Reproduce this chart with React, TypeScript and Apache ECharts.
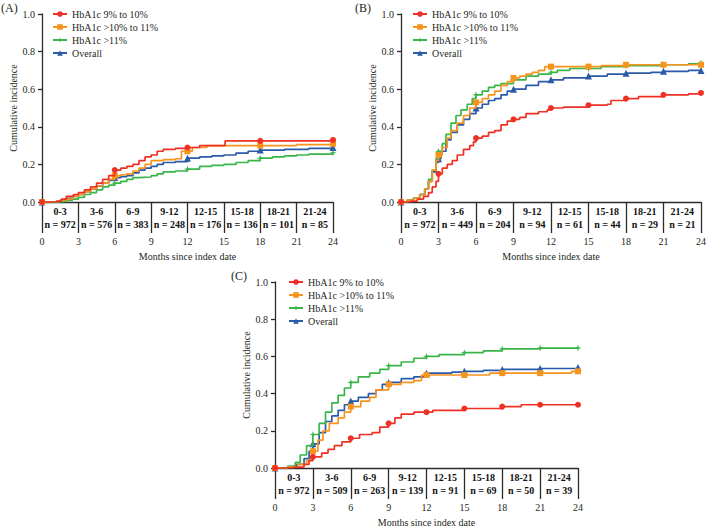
import React, { useEffect, useRef } from "react";
import * as echarts from "echarts";

const FONT = '"Liberation Serif", "Times New Roman", serif';
const TXT = "#231f20";
const AXIS = "#2b2b2b";

const SERIES_NAMES = ["HbA1c 9% to 10%", "HbA1c >10% to 11%", "HbA1c >11%", "Overall"];
const COLORS = ["#ee3124", "#f7941d", "#3ab54a", "#2b5aa8"];
const SYMBOLS = [
  "circle",
  "rect",
  "path://M5 0 L6.2 3.8 L10 5 L6.2 6.2 L5 10 L3.8 6.2 L0 5 L3.8 3.8 Z",
  "triangle",
];
const SYMBOL_SIZES = [6, 6, 7, 7];

const INTERVALS = ["0-3", "3-6", "6-9", "9-12", "12-15", "15-18", "18-21", "21-24"];

// Panel A
const A_COUNTS = [972, 576, 383, 248, 176, 136, 101, 85];
const A_MARKERS = [0, 6, 12, 18, 24];
const A_RED = [[0,0],[1.2,0.005],[1.6,0.015],[2,0.03],[2.6,0.04],[3,0.05],[3.5,0.065],[4,0.08],[4.5,0.1],[5,0.12],[5.5,0.14],[6,0.17],[6.5,0.18],[7,0.19],[7.5,0.2],[8,0.22],[8.5,0.24],[9,0.25],[9.5,0.27],[10,0.28],[11,0.285],[12,0.29],[13,0.3],[15,0.3],[15.1,0.325],[18,0.325],[21,0.325],[24,0.33]];
const A_ORANGE = [[0,0],[1,0.003],[1.5,0.008],[2,0.015],[2.5,0.03],[3,0.04],[3.5,0.055],[4,0.07],[4.5,0.085],[5,0.1],[5.5,0.12],[6,0.14],[6.5,0.145],[7,0.15],[7.5,0.165],[8,0.18],[8.5,0.2],[9,0.22],[10,0.225],[11,0.23],[11.5,0.27],[12,0.27],[12.4,0.29],[13.6,0.3],[18,0.3],[21,0.305],[24,0.31]];
const A_GREEN = [[0,0],[1.5,0.003],[2,0.008],[2.5,0.015],[3,0.025],[3.5,0.04],[4,0.05],[4.5,0.065],[5,0.08],[5.5,0.09],[6,0.1],[6.5,0.11],[7,0.12],[7.5,0.13],[8,0.133],[9,0.14],[9.5,0.15],[10,0.16],[11,0.165],[12,0.175],[13,0.19],[14,0.195],[15,0.2],[16,0.21],[17,0.22],[18,0.233],[19,0.24],[20,0.245],[21,0.25],[22,0.255],[24,0.262]];
const A_BLUE = [[0,0],[1,0.003],[1.5,0.01],[2,0.02],[2.5,0.03],[3,0.04],[3.5,0.055],[4,0.07],[4.5,0.085],[5,0.1],[5.5,0.115],[6,0.13],[6.5,0.135],[7,0.14],[7.5,0.155],[8,0.17],[8.5,0.18],[9,0.19],[9.5,0.2],[10,0.21],[11,0.215],[12,0.233],[13,0.24],[14,0.245],[15,0.25],[16,0.26],[17,0.27],[18,0.276],[20,0.28],[22,0.285],[24,0.29]];

// Panel B
const B_COUNTS = [972, 449, 204, 94, 61, 44, 29, 21];
const B_MARKERS = [0, 3, 6, 9, 12, 15, 18, 21, 24];
const B_RED = [[0,0],[0.8,0.005],[1.3,0.015],[1.8,0.03],[2.2,0.05],[2.5,0.08],[2.8,0.11],[3,0.15],[3.3,0.18],[3.7,0.2],[4.1,0.22],[4.5,0.25],[5,0.28],[5.5,0.3],[5.8,0.32],[6,0.34],[6.5,0.35],[7,0.37],[7.5,0.38],[8,0.41],[8.5,0.43],[9,0.44],[9.5,0.45],[10,0.47],[11,0.48],[11.7,0.49],[12,0.5],[13,0.505],[15,0.515],[16.5,0.52],[16.8,0.54],[18,0.55],[19,0.56],[21,0.57],[23,0.575],[24,0.58]];
const B_ORANGE = [[0,0],[0.5,0.01],[1,0.02],[1.5,0.04],[1.9,0.07],[2.2,0.11],[2.5,0.17],[2.8,0.22],[3,0.25],[3.3,0.29],[3.7,0.34],[4,0.38],[4.5,0.42],[5,0.46],[5.5,0.5],[6,0.53],[6.5,0.55],[7,0.57],[7.5,0.59],[8,0.62],[8.5,0.64],[9,0.66],[9.5,0.67],[10,0.68],[10.5,0.69],[11,0.7],[11.5,0.72],[12,0.72],[15,0.72],[16,0.725],[18,0.73],[21,0.73],[24,0.73]];
const B_GREEN = [[0,0],[0.5,0.01],[1,0.02],[1.5,0.04],[1.9,0.07],[2.2,0.12],[2.5,0.17],[2.8,0.23],[3,0.27],[3.3,0.31],[3.6,0.36],[4,0.42],[4.4,0.46],[4.8,0.49],[5.3,0.52],[5.7,0.55],[6,0.57],[6.5,0.59],[7,0.61],[7.5,0.62],[8,0.63],[9,0.65],[10,0.67],[11,0.68],[12,0.69],[12.5,0.7],[13.5,0.71],[15,0.71],[16,0.72],[18,0.725],[21,0.73],[23,0.735],[24,0.74]];
const B_BLUE = [[0,0],[0.5,0.01],[1,0.02],[1.5,0.04],[1.9,0.07],[2.2,0.11],[2.5,0.16],[2.8,0.21],[3,0.23],[3.2,0.27],[3.6,0.33],[4,0.37],[4.5,0.41],[5,0.44],[5.5,0.47],[6,0.5],[6.5,0.52],[7,0.54],[7.5,0.55],[8,0.57],[8.5,0.59],[9,0.6],[10,0.62],[11,0.64],[12,0.65],[13,0.66],[15,0.67],[16.5,0.68],[18,0.685],[20,0.69],[21,0.695],[23,0.7],[24,0.7]];

// Panel C
const C_COUNTS = [972, 509, 263, 139, 91, 69, 50, 39];
const C_MARKERS = [0, 3, 6, 9, 12, 15, 18, 21, 24];
const C_RED = [[0,0],[1.5,0.005],[2.3,0.02],[2.7,0.04],[3,0.06],[3.7,0.08],[4.2,0.1],[4.7,0.12],[5.3,0.14],[6,0.16],[6.7,0.18],[7.7,0.19],[8.3,0.22],[9,0.24],[9.5,0.27],[10,0.29],[11,0.3],[12,0.3],[12.5,0.31],[15,0.32],[18,0.33],[19.5,0.34],[21,0.34],[24,0.34]];
const C_ORANGE = [[0,0],[1,0.005],[1.8,0.02],[2.5,0.04],[2.8,0.05],[3,0.09],[3.4,0.15],[3.8,0.2],[4.3,0.24],[5,0.27],[5.5,0.3],[6,0.33],[6.8,0.36],[7.5,0.38],[8,0.42],[9,0.45],[10,0.46],[11,0.47],[11.6,0.5],[12,0.5],[15,0.5],[17,0.51],[18,0.51],[21,0.51],[23.5,0.52],[24,0.52]];
const C_GREEN = [[0,0],[1,0.01],[1.6,0.03],[2,0.07],[2.5,0.12],[3,0.18],[3.5,0.24],[4,0.3],[4.5,0.35],[5,0.39],[5.5,0.43],[6,0.46],[6.6,0.49],[7.5,0.51],[8.3,0.53],[9,0.55],[10,0.57],[11,0.59],[12,0.6],[13,0.61],[15,0.62],[16.5,0.63],[18,0.64],[21,0.645],[24,0.645]];
const C_BLUE = [[0,0],[1,0.005],[1.7,0.02],[2.3,0.05],[2.7,0.09],[3,0.13],[3.5,0.19],[4,0.25],[4.5,0.28],[5,0.31],[5.5,0.34],[6,0.36],[6.6,0.38],[7.4,0.4],[8,0.42],[8.5,0.45],[9,0.46],[10,0.48],[11,0.49],[12,0.51],[14,0.515],[15,0.52],[16.5,0.525],[18,0.53],[21,0.535],[24,0.54]];

const PANELS = [
  { label: "(A)", grid: { left: 42, top: 14, width: 291, height: 188 }, labelPos: [1, 2], legendPos: [52, 8], counts: A_COUNTS, markers: A_MARKERS, curves: [A_RED, A_ORANGE, A_GREEN, A_BLUE] },
  { label: "(B)", grid: { left: 401, top: 14, width: 302, height: 188 }, labelPos: [355, 2], legendPos: [412, 8], counts: B_COUNTS, markers: B_MARKERS, curves: [B_RED, B_ORANGE, B_GREEN, B_BLUE] },
  { label: "(C)", grid: { left: 275, top: 282, width: 303, height: 188 }, labelPos: [231, 270], legendPos: [288, 276], counts: C_COUNTS, markers: C_MARKERS, curves: [C_RED, C_ORANGE, C_GREEN, C_BLUE] },
];

function buildOption() {
  const grid: any[] = [];
  const xAxis: any[] = [];
  const yAxis: any[] = [];
  const series: any[] = [];
  const legend: any[] = [];
  const graphic: any[] = [];
  const textStyle = { fontFamily: FONT, color: TXT };

  PANELS.forEach((p, i) => {
    grid.push({ ...p.grid, containLabel: false });
    xAxis.push({
      gridIndex: i,
      type: "value",
      min: 0,
      max: 24,
      interval: 3,
      position: "bottom",
      axisLine: { show: true, onZero: false, lineStyle: { color: AXIS, width: 1.3 } },
      axisTick: { show: true, length: 31, lineStyle: { color: AXIS, width: 1.3 } },
      axisLabel: { margin: 34, fontSize: 10, ...textStyle },
      splitLine: { show: false },
      name: "Months since index date",
      nameLocation: "middle",
      nameGap: 49,
      nameTextStyle: { fontSize: 10, ...textStyle },
    });
    xAxis.push({
      gridIndex: i,
      type: "category",
      position: "bottom",
      data: INTERVALS,
      axisLine: { show: false },
      axisTick: { show: false },
      splitLine: { show: false },
      axisLabel: {
        interval: 0,
        margin: 3,
        fontSize: 10,
        fontWeight: "bold",
        lineHeight: 13,
        ...textStyle,
        color: "#111",
        formatter: (v: string, idx: number) => `${v}\nn = ${p.counts[idx]}`,
      },
    });
    yAxis.push({
      gridIndex: i,
      type: "value",
      min: 0,
      max: 1,
      interval: 0.2,
      axisLine: { show: true, lineStyle: { color: AXIS, width: 1.3 } },
      axisTick: { show: true, length: 4, lineStyle: { color: AXIS, width: 1.3 } },
      axisLabel: { margin: 7, fontSize: 10, ...textStyle, formatter: (v: number) => v.toFixed(1) },
      splitLine: { show: false },
      name: "Cumulative incidence",
      nameLocation: "middle",
      nameGap: 24,
      nameTextStyle: { fontSize: 10, ...textStyle },
    });
    p.curves.forEach((curve, k) => {
      series.push({
        name: SERIES_NAMES[k],
        type: "line",
        xAxisIndex: i * 2,
        yAxisIndex: i,
        step: "end",
        symbol: SYMBOLS[k],
        symbolSize: SYMBOL_SIZES[k],
        showAllSymbol: true,
        z: 10 - k,
        lineStyle: { color: COLORS[k], width: 1.7 },
        itemStyle: { color: COLORS[k] },
        data: curve.map((pt) =>
          p.markers.includes(pt[0]) ? { value: pt } : { value: pt, symbol: "none" }
        ),
      });
    });
    legend.push({
      orient: "vertical",
      left: p.legendPos[0],
      top: p.legendPos[1],
      itemWidth: 14,
      itemHeight: 7,
      itemGap: 1,
      padding: 0,
      data: SERIES_NAMES,
      textStyle: { fontSize: 10, lineHeight: 12, ...textStyle },
    });
    graphic.push({
      type: "text",
      left: p.labelPos[0],
      top: p.labelPos[1],
      style: { text: p.label, font: `12px ${FONT}`, fill: TXT },
    });
  });

  return { animation: false, backgroundColor: "#ffffff", grid, xAxis, yAxis, series, legend, graphic };
}

export default function App() {
  const ref = useRef<HTMLDivElement>(null);
  useEffect(() => {
    if (!ref.current) return;
    const chart = echarts.init(ref.current, undefined, { renderer: "svg" });
    chart.setOption(buildOption() as any);
    return () => chart.dispose();
  }, []);
  return (
    <div
      ref={ref}
      style={{ position: "fixed", left: 0, top: 0, width: 709, height: 528, background: "#fff" }}
    />
  );
}
